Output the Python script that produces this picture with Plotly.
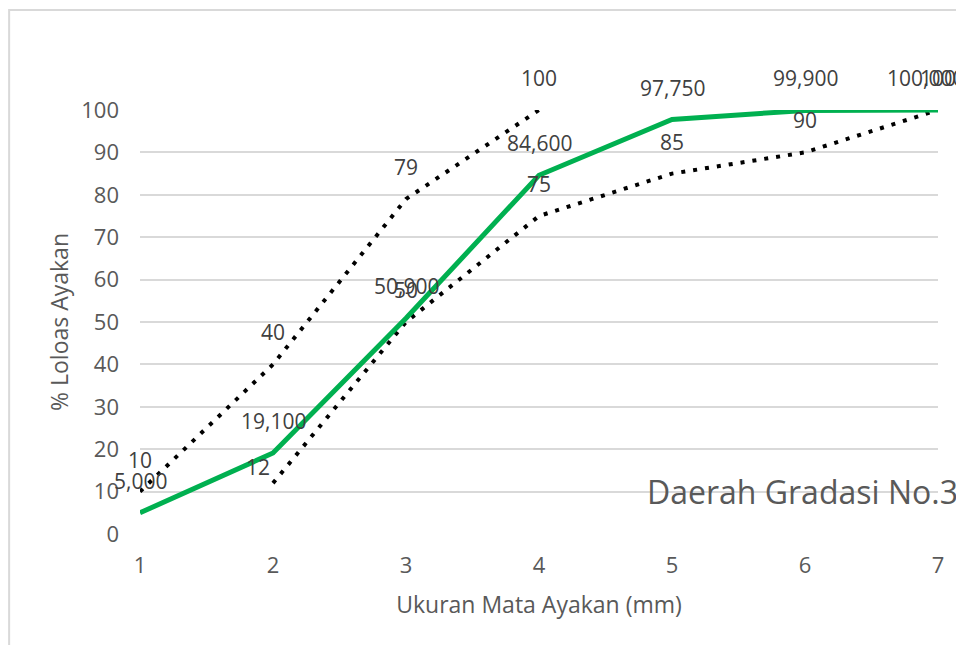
import plotly.graph_objects as go

x_vals = [1, 2, 3, 4, 5, 6, 7]
upper_x = [1, 2, 3, 4]
upper_y = [10, 40, 79, 100]
lower_x = [2, 3, 4, 5, 6, 7]
lower_y = [12, 50, 75, 85, 90, 100]
green_y = [5.0, 19.1, 50.9, 84.6, 97.75, 99.9, 100.0]

FONT = "Open Sans"
TXT = "#595959"

fig = go.Figure()
fig.add_trace(go.Scatter(x=upper_x, y=upper_y, mode="lines",
                         line=dict(color="black", width=4, dash="4px,8px"),
                         cliponaxis=False, showlegend=False))
fig.add_trace(go.Scatter(x=lower_x, y=lower_y, mode="lines",
                         line=dict(color="black", width=4, dash="4px,8px"),
                         cliponaxis=False, showlegend=False))
fig.add_trace(go.Scatter(x=x_vals, y=green_y, mode="lines",
                         line=dict(color="#00B050", width=5),
                         cliponaxis=False, showlegend=False))

annots = []
lab_font = dict(family=FONT, size=21, color="#404040")
for xv, yv in zip(upper_x, upper_y):
    annots.append(dict(x=xv, y=yv, xref="x", yref="y", text=str(yv), showarrow=False,
                       yshift=32, font=lab_font))
for i, (xv, yv) in enumerate(zip(lower_x, lower_y)):
    xs = -15 if i == 0 else 0
    ys = 16 if i == 0 else 32
    annots.append(dict(x=xv, y=yv, xref="x", yref="y", text=str(yv), showarrow=False,
                       yshift=ys, xshift=xs, font=lab_font))
for i, (xv, yv) in enumerate(zip(x_vals, green_y)):
    t = f"{yv:.3f}".replace(".", ",")
    xs = -13 if i == len(x_vals) - 1 else 0
    annots.append(dict(x=xv, y=yv, xref="x", yref="y", text=t, showarrow=False,
                       yshift=32, xshift=xs, font=lab_font))
annots.append(dict(x=1.028, y=10, xref="paper", yref="y", xanchor="right", yanchor="middle",
                   text="Daerah Gradasi No.3", showarrow=False,
                   font=dict(family=FONT, size=32, color=TXT)))

fig.update_layout(
    width=964, height=645,
    margin=dict(l=132, r=34, t=102, b=119),
    paper_bgcolor="white", plot_bgcolor="white",
    annotations=annots,
    shapes=[dict(type="rect", xref="paper", yref="paper", x0=-0.164, x1=1.3,
                 y0=-0.4, y1=1.2358, line=dict(color="#d9d9d9", width=2), layer="below")],
    xaxis=dict(range=[1, 7], tickvals=x_vals, showgrid=False, zeroline=False,
               showline=False, ticks="", tickfont=dict(family=FONT, size=22, color=TXT),
               ticklabelstandoff=16,
               title=dict(text="Ukuran Mata Ayakan (mm)", font=dict(family=FONT, size=23, color=TXT),
                          standoff=18)),
    yaxis=dict(range=[0, 100], dtick=10, showgrid=True, gridcolor="#d9d9d9", gridwidth=1.5,
               zeroline=False, showline=False, ticks="",
               tickfont=dict(family=FONT, size=22, color=TXT), ticklabelstandoff=20,
               title=dict(text="% Loloas Ayakan", font=dict(family=FONT, size=23, color=TXT),
                          standoff=6)),
)
fig.write_html("out.html")
